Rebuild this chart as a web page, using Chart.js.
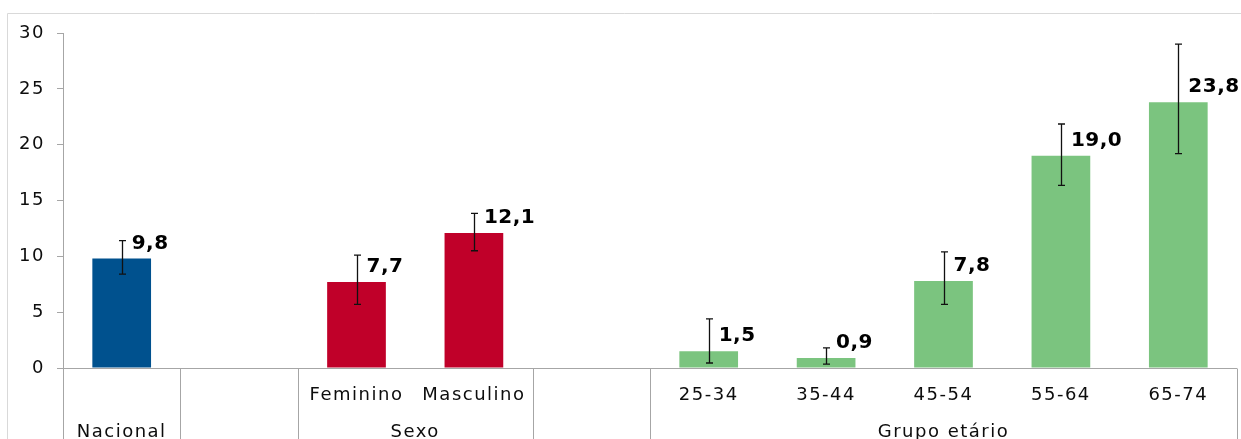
<!DOCTYPE html>
<html>
<head>
<meta charset="utf-8">
<script src="https://cdn.jsdelivr.net/npm/chart.js@4/dist/chart.umd.min.js"></script>
<style>
  html, body { margin: 0; padding: 0; background: #fff; }
  #wrap { width: 1241px; height: 439px; position: relative; }
</style>
</head>
<body>
<div id="wrap"><canvas id="c"></canvas></div>
<script>
// ---- data ----
const categories = ['Nacional', '', 'Feminino', 'Masculino', '', '25-34', '35-44', '45-54', '55-64', '65-74'];
const rowOneLabels = ['', '', 'Feminino', 'Masculino', '', '25-34', '35-44', '45-54', '55-64', '65-74'];
const values    = [9.8, null, 7.7, 12.1, null, 1.5, 0.9, 7.8, 19.0, 23.8];
const errLow    = [8.4, null, 5.7, 10.5, null, 0.45, 0.35, 5.7, 16.35, 19.2];
const errHigh   = [11.4, null, 10.1, 13.85, null, 4.4, 1.8, 10.4, 21.85, 29.0];
const valueLabels = ['9,8', '', '7,7', '12,1', '', '1,5', '0,9', '7,8', '19,0', '23,8'];
const groupLabels = ['Nacional', '', 'Sexo', '', 'Grupo etário'];
const groupSizes  = [1, 1, 2, 1, 5];
const yTicks = [0, 5, 10, 15, 20, 25, 30];

const BLUE = '#00518e', RED = '#c00029', GREEN = '#7bc47f';
const barColors = [BLUE, BLUE, RED, RED, GREEN, GREEN, GREEN, GREEN, GREEN, GREEN];

const FONT = '"DejaVu Sans", Verdana, sans-serif';

const decorPlugin = {
  id: 'decor',
  beforeDraw(chart) {
    const ctx = chart.ctx;
    ctx.save();
    ctx.strokeStyle = '#d9d9d9';
    ctx.lineWidth = 1;
    ctx.beginPath();
    ctx.moveTo(7.5, 439);
    ctx.lineTo(7.5, 13.5);
    ctx.lineTo(1241, 13.5);
    ctx.stroke();
    ctx.restore();
    ctx.letterSpacing = '1.5px';
  },
  afterDatasetsDraw(chart) {
    const ctx = chart.ctx;
    const x = chart.scales.x, y = chart.scales.y;
    const area = chart.chartArea;
    const y0 = y.getPixelForValue(0);
    const slot = (area.right - area.left) / categories.length;
    ctx.save();
    // x axis line and separators
    ctx.strokeStyle = '#a6a6a6';
    ctx.lineWidth = 1;
    ctx.beginPath();
    ctx.moveTo(area.left - 6, Math.round(y0) + 0.5);
    ctx.lineTo(area.right, Math.round(y0) + 0.5);
    let idx = 0;
    const bounds = [0];
    groupSizes.forEach(s => { idx += s; bounds.push(idx); });
    bounds.forEach(b => {
      const bx = Math.round(area.left + b * slot) + 0.5;
      ctx.moveTo(bx, Math.round(y0) + 0.5);
      ctx.lineTo(bx, chart.height);
    });
    ctx.stroke();

    // row one labels
    ctx.fillStyle = '#0d0d0d';
    ctx.font = '18px ' + FONT;
    ctx.letterSpacing = '1.5px';
    ctx.textAlign = 'center';
    ctx.textBaseline = 'alphabetic';
    rowOneLabels.forEach((lab, i) => {
      if (!lab) return;
      ctx.fillText(lab, x.getPixelForValue(i), 400);
    });
    // group labels
    let start = 0;
    groupLabels.forEach((lab, g) => {
      const end = start + groupSizes[g];
      if (lab) {
        const cx = area.left + ((start + end) / 2) * slot;
        ctx.fillText(lab, cx, 437);
      }
      start = end;
    });

    // error bars
    ctx.strokeStyle = '#111';
    ctx.lineWidth = 1.3;
    values.forEach((v, i) => {
      if (v === null) return;
      const cx = Math.round(x.getPixelForValue(i)) + 0.5;
      const yl = y.getPixelForValue(errLow[i]);
      const yh = y.getPixelForValue(errHigh[i]);
      ctx.beginPath();
      ctx.moveTo(cx, yl); ctx.lineTo(cx, yh);
      ctx.moveTo(cx - 3.5, yl); ctx.lineTo(cx + 3.5, yl);
      ctx.moveTo(cx - 3.5, yh); ctx.lineTo(cx + 3.5, yh);
      ctx.stroke();
    });

    // value labels
    ctx.fillStyle = '#000';
    ctx.font = 'bold 20px ' + FONT;
    ctx.letterSpacing = '0.5px';
    ctx.textAlign = 'left';
    values.forEach((v, i) => {
      if (v === null) return;
      const cx = x.getPixelForValue(i);
      const top = y.getPixelForValue(v);
      ctx.fillText(valueLabels[i], cx + 10, top - 10);
    });
    ctx.restore();
  }
};

new Chart(document.getElementById('c'), {
  type: 'bar',
  data: {
    labels: categories,
    datasets: [{
      data: values,
      backgroundColor: barColors,
      borderWidth: 0,
      barPercentage: 0.5,
      categoryPercentage: 1.0
    }]
  },
  options: {
    responsive: true,
    maintainAspectRatio: false,
    animation: false,
    devicePixelRatio: 1,
    layout: { padding: { top: 33, right: 4, left: 0, bottom: 0 } },
    plugins: { legend: { display: false }, tooltip: { enabled: false } },
    scales: {
      x: {
        ticks: { display: false },
        grid: { display: false },
        border: { display: false },
        afterFit(s) { s.height = 71; }
      },
      y: {
        min: 0, max: 30,
        afterBuildTicks(s) { s.ticks = yTicks.map(v => ({ value: v })); },
        ticks: {
          padding: 12,
          color: '#0d0d0d',
          font: { family: FONT, size: 18 }
        },
        grid: {
          drawOnChartArea: false,
          drawTicks: true,
          tickLength: 6,
          color: '#a6a6a6'
        },
        border: { display: true, color: '#a6a6a6', width: 1 },
        afterFit(s) { s.width = 63; }
      }
    }
  },
  plugins: [decorPlugin]
});
</script>
</body>
</html>
